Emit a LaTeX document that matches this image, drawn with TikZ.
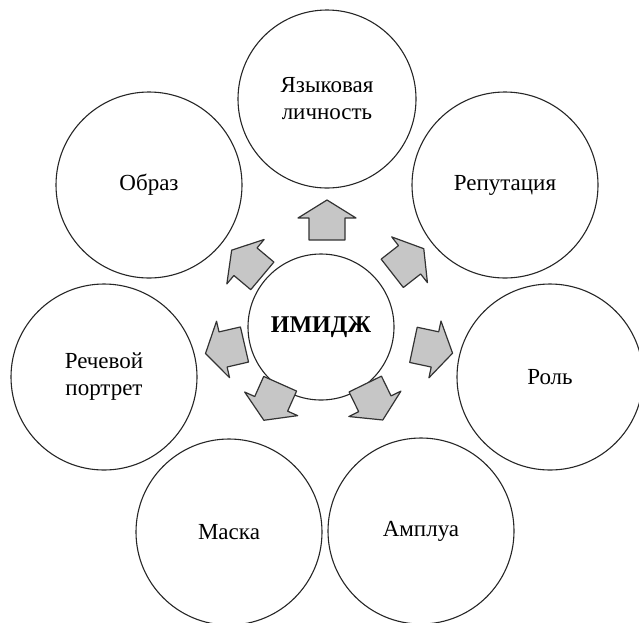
\documentclass[tikz,border=0pt]{standalone}
\usepackage{fontspec}
\setmainfont{Liberation Serif}

\tikzset{
  outer/.style={circle, draw=black!85, line width=1.1pt, minimum size=186pt, inner sep=0pt,
    align=center, font=\fontsize{23}{27}\selectfont},
  core/.style={circle, draw=black!85, line width=1.1pt, minimum size=146pt, inner sep=0pt,
    font=\fontsize{24}{27}\selectfont\bfseries},
  fatarrow/.pic={
    \filldraw [fill=gray!45, draw=black!80, line width=1.2pt, line join=round]
      (-20,-18) -- (2,-18) -- (2,-29) -- (20,0) -- (2,29) -- (2,18) -- (-20,18) -- cycle;
  }
}

\begin{document}
\begin{tikzpicture}[x=1pt,y=1pt,yscale=-1,xscale=1]
\useasboundingbox (0,0) rectangle (639,622);
% central circle
\node [core] (imidzh) at (321,327) {ИМИДЖ};
% outer circles
\node [outer, minimum size=178pt] (yazyk) at (327,99) {Языковая\\личность};
\node [outer] (reput) at (505,185) {Репутация};
\node [outer] (rol) at (550,377) {Роль};
\node [outer] (amplua) at (421,531) {Амплуа};
\node [outer] (maska) at (229,532) {Маска};
\node [outer] (rech) at (104,377) {Речевой\\портрет};
\node [outer] (obraz) at (149,185) {Образ};
% arrows, from the centre outwards
\pic [rotate=90] (toyazyk) at (327,220) {fatarrow};
\pic [rotate=38] (toreput) at (408,261) {fatarrow};
\pic [rotate=-12] (torol) at (433,349) {fatarrow};
\pic [rotate=-64] (toamplua) at (374,402) {fatarrow};
\pic [rotate=-114] (tomaska) at (272,402) {fatarrow};
\pic [rotate=-167] (torech) at (225,349) {fatarrow};
\pic [rotate=140] (toobraz) at (247,263) {fatarrow};
\end{tikzpicture}
\end{document}
